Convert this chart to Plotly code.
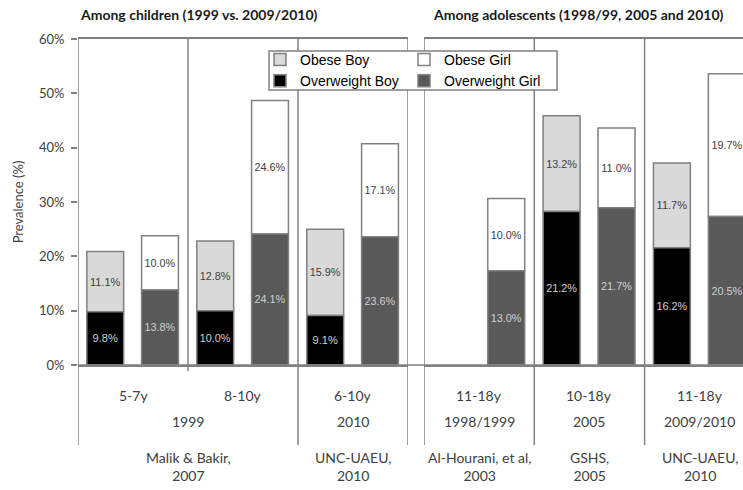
import plotly.graph_objects as go

# ---------------- data ----------------
left_groups = ["5-7y", "8-10y", "6-10y"]
right_groups = ["11-18y", "10-18y", "11-18y"]

# second-level labels: (label, first group index, last group index)
left_years = [("1999", 0, 1), ("2010", 2, 2)]
right_years = [("1998/1999", 0, 0), ("2005", 1, 1), ("2009/2010", 2, 2)]
left_sources = [("Malik & Bakir,<br>2007", 0, 1), ("UNC-UAEU,<br>2010", 2, 2)]
right_sources = [("Al-Hourani, et al,<br>2003", 0, 0), ("GSHS,<br>2005", 1, 1),
                 ("UNC-UAEU,<br>2010", 2, 2)]

ow_boy_left = [9.8, 10.0, 9.1]
ob_boy_left = [11.1, 12.8, 15.9]
ow_girl_left = [13.8, 24.1, 23.6]
ob_girl_left = [10.0, 24.6, 17.1]

ow_boy_right = [None, 21.2, 16.2]
ob_boy_right = [None, 13.2, 11.7]
ow_girl_right = [13.0, 21.7, 20.5]
ob_girl_right = [10.0, 11.0, 19.7]

title_left = "Among children (1999 vs. 2009/2010)"
title_right = "Among adolescents (1998/99, 2005 and 2010)"

# ---------------- styling ----------------
W, H = 743, 490
ML, MR, MT, MB = 78, 0, 39, 125
PW, PH = W - ML - MR, H - MT - MB
LINE = "#808080"
C_OB_BOY, C_OW_BOY, C_OB_GIRL, C_OW_GIRL = "#d9d9d9", "#000000", "#ffffff", "#595959"
DARK_TXT, LIGHT_TXT = "#404040", "#d0d0d0"
BAR_W, OFF_BOY, OFF_GIRL = 0.335, -0.42, 0.078
CAT_FONT = "Lato, Open Sans, sans-serif"
BAR_FONT = "Liberation Sans, Arial, sans-serif"


def py(px):  # pixel row -> paper y
    return (H - MB - px) / PH


def pxx(px):  # pixel column -> paper x
    return (px - ML) / PW


def lbl(vals):
    return [("%.1f%%" % v) if v is not None else "" for v in vals]


fig = go.Figure()


def add_bar(n, y, base, name, color, tcolor, offset, xa, ya, legend, show):
    fig.add_trace(go.Bar(
        x=list(range(n)), y=y, base=base, name=name,
        width=BAR_W, offset=offset,
        marker=dict(color=color, line=dict(color=LINE, width=1.5)),
        text=lbl(y), textposition="inside", insidetextanchor="middle", textangle=0,
        textfont=dict(family=BAR_FONT, size=11, color=tcolor),
        xaxis=xa, yaxis=ya, legend=legend, legendgroup=name, showlegend=show,
        hoverinfo="skip",
    ))


nl, nr = len(left_groups), len(right_groups)
# legend-bearing traces (left panel)
add_bar(nl, ob_boy_left, ow_boy_left, "Obese Boy", C_OB_BOY, DARK_TXT, OFF_BOY, "x", "y", "legend", True)
add_bar(nl, ow_boy_left, None, "Overweight Boy", C_OW_BOY, LIGHT_TXT, OFF_BOY, "x", "y", "legend", True)
add_bar(nl, ob_girl_left, ow_girl_left, "Obese Girl", C_OB_GIRL, DARK_TXT, OFF_GIRL, "x", "y", "legend2", True)
add_bar(nl, ow_girl_left, None, "Overweight Girl", C_OW_GIRL, LIGHT_TXT, OFF_GIRL, "x", "y", "legend2", True)
# right panel
add_bar(nr, ob_boy_right, ow_boy_right, "Obese Boy", C_OB_BOY, DARK_TXT, OFF_BOY, "x2", "y2", "legend", False)
add_bar(nr, ow_boy_right, None, "Overweight Boy", C_OW_BOY, LIGHT_TXT, OFF_BOY, "x2", "y2", "legend", False)
add_bar(nr, ob_girl_right, ow_girl_right, "Obese Girl", C_OB_GIRL, DARK_TXT, OFF_GIRL, "x2", "y2", "legend2", False)
add_bar(nr, ow_girl_right, None, "Overweight Girl", C_OW_GIRL, LIGHT_TXT, OFF_GIRL, "x2", "y2", "legend2", False)

shapes = []
annotations = []
# vertical divider lines
for xr, xs, tops in (("x", [-0.5, 0.5, 1.5, 2.5], [py(445), py(371), py(445), py(445)]),
                     ("x2", [-0.5, 0.5, 1.5], [py(445), py(445), py(445)])):
    for xv, y0 in zip(xs, tops):
        shapes.append(dict(type="line", xref=xr, yref="paper", x0=xv, x1=xv, y0=y0, y1=1,
                           line=dict(color=LINE, width=1.5), layer="above"))
# continuous bottom line across the gap
shapes.append(dict(type="line", xref="paper", yref="paper", x0=0, x1=1, y0=0, y1=0,
                   line=dict(color=LINE, width=1.5), layer="above"))
# legend frame (opaque)
shapes.append(dict(type="rect", xref="paper", yref="paper",
                   x0=pxx(269), x1=pxx(557), y0=py(90), y1=py(51),
                   fillcolor="white", line=dict(color=LINE, width=1.5), layer="above"))

cat_font = dict(family=CAT_FONT, size=14, color=DARK_TXT)
for xr, groups in (("x", left_groups), ("x2", right_groups)):
    for i, g in enumerate(groups):
        annotations.append(dict(xref=xr, yref="paper", x=i, y=py(395), text=g, showarrow=False,
                                font=cat_font, xanchor="center", yanchor="middle"))
for xr, items in (("x", left_years), ("x2", right_years)):
    for t, a, b in items:
        annotations.append(dict(xref=xr, yref="paper", x=(a + b) / 2, y=py(421.5), text=t,
                                showarrow=False, font=cat_font, xanchor="center", yanchor="middle"))
for xr, items in (("x", left_sources), ("x2", right_sources)):
    for t, a, b in items:
        annotations.append(dict(xref=xr, yref="paper", x=(a + b) / 2, y=py(466), text=t,
                                showarrow=False, font=cat_font, xanchor="center", yanchor="middle"))

title_font = dict(family=CAT_FONT, size=14, color="#1a1a1a")
annotations.append(dict(xref="paper", yref="paper", x=0, y=py(15), text="<b>%s</b>" % title_left,
                        showarrow=False, font=title_font, xanchor="left", yanchor="middle"))
annotations.append(dict(xref="paper", yref="paper", x=pxx(431), y=py(15), text="<b>%s</b>" % title_right,
                        showarrow=False, font=title_font, xanchor="left", yanchor="middle"))

axis_common = dict(showline=True, mirror=True, linecolor=LINE, linewidth=1.5,
                   showticklabels=False, ticks="", showgrid=False, zeroline=False, fixedrange=True)
leg_common = dict(orientation="v", bgcolor="rgba(0,0,0,0)", borderwidth=0,
                  font=dict(family=BAR_FONT, size=14, color="#000000"),
                  itemwidth=30, traceorder="normal", yanchor="top", xanchor="left")

fig.update_layout(
    width=W, height=H,
    margin=dict(l=ML, r=MR, t=MT, b=MB, autoexpand=False),
    paper_bgcolor="white", plot_bgcolor="white",
    barmode="overlay",
    xaxis=dict(domain=[0, pxx(408)], range=[-0.5, 2.5], anchor="y", **axis_common),
    xaxis2=dict(domain=[pxx(424), 1], range=[-0.5, -0.5 + (W - 424) / 110.3], anchor="y2", **axis_common),
    yaxis=dict(domain=[0, 1], range=[0, 60], dtick=10, ticksuffix="%", anchor="x",
               ticks="outside", ticklen=6, tickcolor=LINE, tickwidth=1.5, ticklabelstandoff=4,
               showline=False, showgrid=False, zeroline=False, fixedrange=True,
               tickfont=dict(family=CAT_FONT, size=13, color=DARK_TXT),
               title=dict(text="Prevalence (%)", standoff=12,
                          font=dict(family=CAT_FONT, size=13, color=DARK_TXT))),
    yaxis2=dict(domain=[0, 1], range=[0, 45], anchor="x2", visible=False, fixedrange=True),
    legend=dict(x=pxx(260), y=py(44), **leg_common),
    legend2=dict(x=pxx(404), y=py(44), **leg_common),
    shapes=shapes, annotations=annotations,
    showlegend=True,
)

fig.write_html("out.html", config={"displayModeBar": False},
               post_script="document.body.style.margin='0';")
